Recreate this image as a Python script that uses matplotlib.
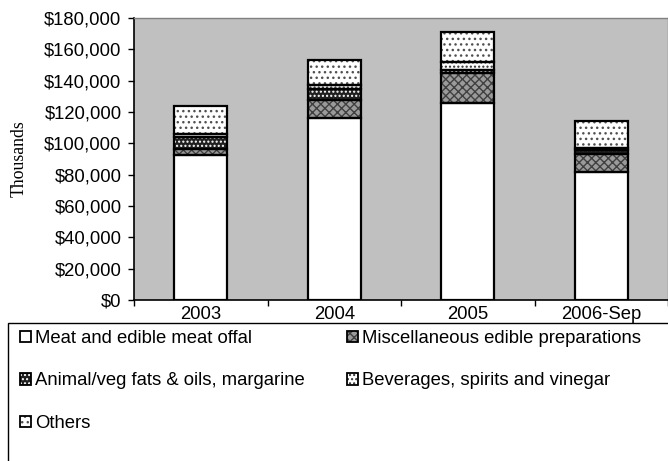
import matplotlib
matplotlib.use("Agg")
import matplotlib.pyplot as plt
from matplotlib.patches import Patch, Rectangle
import numpy as np

categories = ["2003", "2004", "2005", "2006-Sep"]
meat = [92500, 116000, 126000, 82000]
misc = [4000, 11500, 19000, 11500]
fats = [7500, 7000, 2000, 2000]
bev = [2000, 2500, 5000, 1500]
others = [18000, 16000, 19000, 17000]

series_names = ["Meat and edible meat offal", "Miscellaneous edible preparations",
                "Animal/veg fats & oils, margarine", "Beverages, spirits and vinegar",
                "Others"]
series_vals = [meat, misc, fats, bev, others]
# (facecolor, hatch, hatchcolor)
styles = [("white", None, "white"),
          ("#9a9a9a", "xxxx", "#404040"),
          ("#202020", "....", "white"),
          ("white", "....", "#303030"),
          ("white", "...", "#505050")]

plt.rcParams['font.family'] = ['Liberation Sans', 'DejaVu Sans']
plt.rcParams['hatch.linewidth'] = 1.0

W, H = 668, 461
FS = 13.3
fig = plt.figure(figsize=(W/100, H/100), dpi=100)
left, right, top, bottom = 134, 668, 18, 300
ax = fig.add_axes([left/W, 1-bottom/H, (right-left)/W, (bottom-top)/H])
ax.set_facecolor("#c0c0c0")

x = np.arange(len(categories))
base = np.zeros(len(categories))
handles = []
for name, vals, (fc, hatch, hc) in zip(series_names, series_vals, styles):
    vals = np.array(vals, dtype=float)
    ax.bar(x, vals, 0.4, bottom=base, color=fc, hatch=hatch, edgecolor=hc,
           linewidth=0, zorder=2)
    ax.bar(x, vals, 0.4, bottom=base, fill=False, edgecolor="black",
           linewidth=1.6, zorder=3)
    base += vals
    handles.append((Patch(facecolor=fc, hatch=hatch, edgecolor=hc, linewidth=0),
                    Patch(fill=False, edgecolor="black", linewidth=1.3)))

ax.set_xlim(-0.5, 3.5)
ax.set_ylim(0, 180000)
yt = np.arange(0, 180001, 20000)
ax.set_yticks(yt)
ax.set_yticklabels([f"${v:,.0f}" for v in yt], fontsize=FS)
ax.set_xticks(x)
ax.set_xticklabels(categories, fontsize=FS)
ax.set_xticks(np.arange(-0.5, 3.6, 1), minor=True)
ax.tick_params(axis='x', which='major', length=0, pad=4)
ax.tick_params(axis='x', which='minor', length=4, width=1, direction='out')
ax.tick_params(axis='y', length=4, width=1, direction='out', pad=5)
for s in ["left", "bottom"]:
    ax.spines[s].set_color("black")
    ax.spines[s].set_linewidth(1.2)
for s in ["top", "right"]:
    ax.spines[s].set_color("#808080")
    ax.spines[s].set_linewidth(1.0)
ax.set_ylabel("Thousands", fontfamily=['Liberation Serif'], fontsize=12.8, labelpad=12)

# legend box (cut by figure bottom)
ltop = 323
fig.patches.append(Rectangle((8/W, -0.05), (W-8)/W + 0.01, 0.05 + 1-ltop/H,
                             transform=fig.transFigure, fill=False,
                             edgecolor="black", linewidth=1.0))
order = [0, 2, 4, 1, 3]
leg = fig.legend([handles[i] for i in order], [series_names[i] for i in order],
                 loc="upper left", bbox_to_anchor=(20/W, 1-(ltop+7)/H), ncol=2,
                 frameon=False, fontsize=FS, handlelength=0.6, handleheight=0.6,
                 handletextpad=0.2, labelspacing=1.38, columnspacing=2.3,
                 borderaxespad=0, borderpad=0)

fig.savefig("out.png", dpi=100)
